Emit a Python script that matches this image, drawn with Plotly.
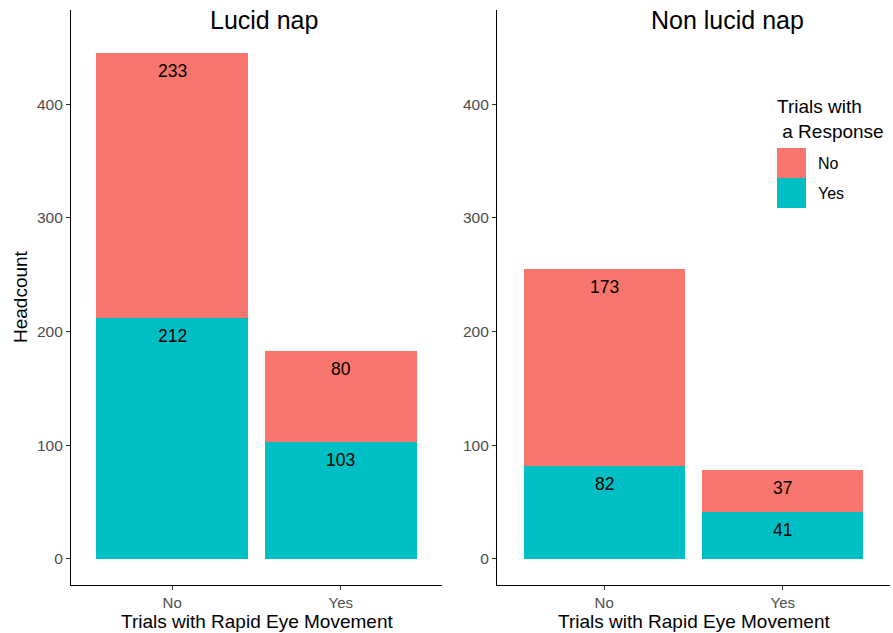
import plotly.graph_objects as go

W, H = 893, 633

# ---- data ----
rem_categories = ["No", "Yes"]
panels = ["Lucid nap", "Non lucid nap"]
response_no_lucid = [233, 80]
response_yes_lucid = [212, 103]
response_no_nonlucid = [173, 37]
response_yes_nonlucid = [82, 41]
y_ticks = [0, 100, 200, 300, 400]
legend_labels = ["No", "Yes"]

COL_NO = "#F8766D"
COL_YES = "#00BFC4"
FONT = "Liberation Sans, Arial, sans-serif"

def px_x(p):
    return p / W

def px_y(p):
    return 1 - p / H

fig = go.Figure()

series = [
    ("x", "y", response_yes_lucid, response_no_lucid),
    ("x2", "y2", response_yes_nonlucid, response_no_nonlucid),
]

annotations = []
for xa, ya, yes_vals, no_vals in series:
    fig.add_trace(go.Bar(x=rem_categories, y=yes_vals, marker=dict(color=COL_YES, line=dict(width=0)),
                         width=0.9, xaxis=xa, yaxis=ya, showlegend=False, name="Yes", hoverinfo="skip"))
    fig.add_trace(go.Bar(x=rem_categories, y=no_vals, marker=dict(color=COL_NO, line=dict(width=0)),
                         width=0.9, xaxis=xa, yaxis=ya, showlegend=False, name="No", hoverinfo="skip"))
    for c, yv, nv in zip(rem_categories, yes_vals, no_vals):
        annotations.append(dict(x=c, y=yv, xref=xa, yref=ya, text=str(yv), showarrow=False,
                                xanchor="center", yanchor="middle",
                                yshift=-18, font=dict(size=17.5, color="black", family=FONT)))
        annotations.append(dict(x=c, y=yv + nv, xref=xa, yref=ya, text=str(nv), showarrow=False,
                                xanchor="center", yanchor="middle",
                                yshift=-18, font=dict(size=17.5, color="black", family=FONT)))

ydom = [px_y(585), px_y(10)]
axis_common = dict(showline=True, linecolor="black", linewidth=1.2, ticks="outside", ticklen=4,
                   tickcolor="#333333", tickwidth=1.1, showgrid=False, zeroline=False)
ytickfont = dict(size=15.5, color="#4D4D4D", family=FONT)
xtickfont = dict(size=15, color="#4D4D4D", family=FONT)

fig.update_layout(
    width=W, height=H,
    margin=dict(l=0, r=0, t=0, b=0),
    paper_bgcolor="white", plot_bgcolor="white",
    barmode="stack", bargap=0,
    showlegend=False,
    xaxis=dict(domain=[px_x(71), px_x(442)], anchor="y", range=[-0.6, 1.6], tickfont=xtickfont, **axis_common),
    yaxis=dict(domain=ydom, anchor="x", range=[-23, 483], tickvals=y_ticks, tickfont=ytickfont, **axis_common),
    xaxis2=dict(domain=[px_x(497), px_x(890)], anchor="y2", range=[-0.6, 1.6], tickfont=xtickfont, **axis_common),
    yaxis2=dict(domain=ydom, anchor="x2", range=[-23, 483], tickvals=y_ticks, tickfont=ytickfont, **axis_common),
)

# panel titles
annotations.append(dict(x=px_x(263.5), y=px_y(20), xref="paper", yref="paper", text=panels[0],
                        xanchor="center", yanchor="middle",
                        showarrow=False, font=dict(size=25, color="black", family=FONT)))
annotations.append(dict(x=px_x(727.5), y=px_y(20), xref="paper", yref="paper", text=panels[1],
                        xanchor="center", yanchor="middle",
                        showarrow=False, font=dict(size=25, color="black", family=FONT)))
# axis titles
for cx in [256.5, 693.5]:
    annotations.append(dict(x=px_x(cx), y=px_y(621), xref="paper", yref="paper",
                            xanchor="center", yanchor="middle",
                            text="Trials with Rapid Eye Movement", showarrow=False,
                            font=dict(size=19, color="black", family=FONT)))
annotations.append(dict(x=px_x(20), y=px_y(297), xref="paper", yref="paper", text="Headcount",
                        xanchor="center", yanchor="middle",
                        showarrow=False, textangle=-90, font=dict(size=19, color="black", family=FONT)))

# legend (manual)
annotations.append(dict(x=px_x(775), y=px_y(119), xref="paper", yref="paper", xanchor="left",
                        yanchor="middle",
                        text="Trials with<br>\u00a0a Response", align="left", showarrow=False,
                        font=dict(size=19, color="black", family=FONT)))
shapes = []
for i, (lab, col) in enumerate(zip(legend_labels, [COL_NO, COL_YES])):
    top = 148 + 30 * i
    shapes.append(dict(type="rect", xref="paper", yref="paper", x0=px_x(777), x1=px_x(806),
                       y0=px_y(top + 30), y1=px_y(top), fillcolor=col, line=dict(width=0)))
    annotations.append(dict(x=px_x(816), y=px_y(top + 15), xref="paper", yref="paper", xanchor="left",
                            yanchor="middle",
                            text=lab, showarrow=False, font=dict(size=16, color="black", family=FONT)))

fig.update_layout(annotations=annotations, shapes=shapes)
fig.write_html("out.html", post_script="document.body.style.margin='0px';",
               config={"displayModeBar": False})
